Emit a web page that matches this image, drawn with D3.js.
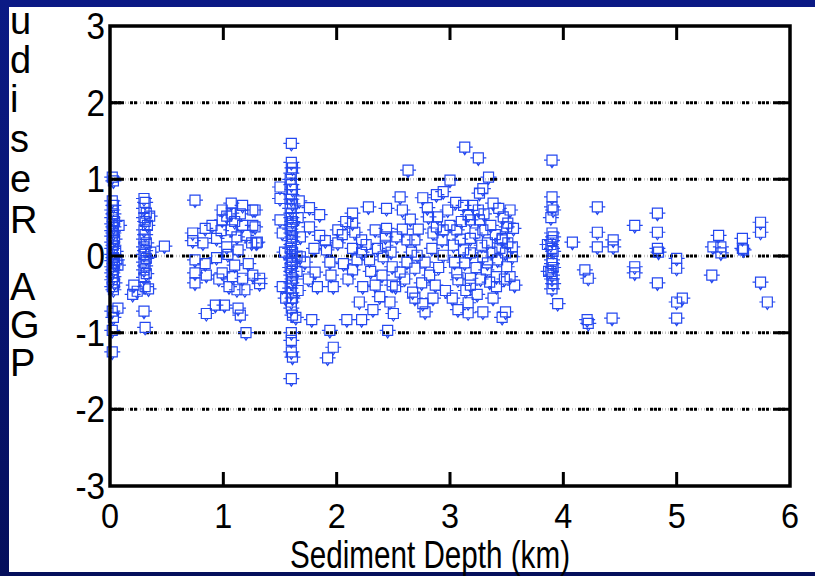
<!DOCTYPE html>
<html>
<head>
<meta charset="utf-8">
<script src="https://cdn.jsdelivr.net/npm/d3@7/dist/d3.min.js"></script>
<style>
  body { margin: 0; padding: 0; }
  svg { display: block; }
  text { font-family: "Liberation Sans", Arial, sans-serif; fill: #000; }
</style>
</head>
<body>
<div id="chart-area"></div>
<script>

// ---- data ----
var xTicks = [0, 1, 2, 3, 4, 5, 6];
var yTicks = [-3, -2, -1, 0, 1, 2, 3];
var gridValues = [-2, -1, 0, 1, 2];
var xLabel = "Sediment Depth (km)";
var yLabelChars = ["u", "d", "i", "s", "e", "R", "A", "G", "P"];

// column of sites at ~0 km
var col0 = [[0.02,1.03],[0.03,0.98],[0.02,0.72],[0.03,0.66],[0.02,0.6],[0.03,0.55],[0.02,0.5],[0.04,0.45],[0.02,0.42],[0.03,0.38],
  [0.02,0.33],[0.03,0.3],[0.02,0.26],[0.04,0.22],[0.02,0.18],[0.03,0.14],[0.02,0.1],[0.05,0.06],[0.02,0.02],[0.03,-0.02],
  [0.02,-0.06],[0.04,-0.1],[0.02,-0.14],[0.03,-0.18],[0.02,-0.22],[0.03,-0.27],[0.02,-0.31],[0.04,-0.35],[0.02,-0.4],[0.03,-0.44],
  [0.06,-0.05],[0.08,0.4],[0.07,-0.12],[0.02,-0.72],[0.03,-0.8],[0.02,-0.97],[0.02,-1.25],[0.07,-0.68]];

// column at ~0.3 km
var col03 = [[0.3,0.75],[0.31,0.7],[0.3,0.62],[0.32,0.56],[0.3,0.5],[0.31,0.45],[0.33,0.4],[0.3,0.34],[0.31,0.28],[0.3,0.22],
  [0.32,0.17],[0.3,0.12],[0.31,0.07],[0.3,0.02],[0.32,-0.03],[0.3,-0.08],[0.31,-0.13],[0.3,-0.18],[0.32,-0.23],[0.3,-0.28],
  [0.31,-0.4],[0.34,-0.43],[0.3,-0.72],[0.31,-0.93],[0.21,-0.38],[0.2,-0.5],[0.24,-0.46],[0.48,0.13],[0.36,0.05],[0.35,0.52]];

// cluster 0.7 - 1.35 km
var cluster1 = [[0.75,0.73],[0.73,0.3],[0.73,0.2],[0.75,-0.05],[0.75,-0.22],[0.75,-0.35],[0.84,0.36],[0.82,0.17],[0.84,-0.1],[0.85,-0.25],
  [0.85,-0.75],[0.94,0.23],[0.94,-0.02],[0.99,0.6],[0.99,0.47],[0.99,-0.22],[0.93,-0.64],[1.01,-0.64],[1.03,0.12],[1.07,0.69],
  [1.07,0.56],[1.07,0.34],[1.08,-0.27],[1.1,-0.12],[1.12,-0.44],[1.13,-0.68],[1.15,-0.77],[1.17,0.66],[1.17,0.4],[1.17,-0.29],
  [1.19,-0.44],[1.2,0.27],[1.2,-1.0],[1.25,0.17],[1.26,0.6],[1.26,0.4],[1.26,-0.25],[1.29,0.17],[1.32,-0.29],[1.32,-0.36],
  [0.98,0.33],[1.03,0.52],[1.1,0.45],[1.04,0.02],[0.9,0.4],[1.13,0.08],[1.22,-0.1],[0.96,-0.3],[1.05,-0.4],[1.15,0.55],[1.12,0.25],
  [1.28,0.6],[1.28,0.38],[1.3,0.18]];

// column at ~1.6 km
var col16 = [[1.6,1.47],[1.6,1.22],[1.61,1.15],[1.6,1.08],[1.59,1.0],[1.6,0.93],[1.61,0.87],[1.6,0.8],[1.6,0.74],[1.61,0.68],
  [1.59,0.62],[1.6,0.56],[1.6,0.5],[1.61,0.45],[1.6,0.4],[1.59,0.35],[1.6,0.3],[1.61,0.25],[1.6,0.2],[1.6,0.15],
  [1.59,0.1],[1.61,0.05],[1.6,0.0],[1.6,-0.05],[1.61,-0.1],[1.59,-0.15],[1.6,-0.2],[1.6,-0.25],[1.61,-0.3],[1.6,-0.35],
  [1.59,-0.42],[1.6,-0.48],[1.61,-0.55],[1.6,-0.6],[1.6,-0.68],[1.61,-0.77],[1.6,-1.0],[1.6,-1.1],[1.6,-1.25],[1.61,-1.32],
  [1.6,-1.6],[1.5,0.9],[1.5,0.75],[1.5,0.47],[1.52,0.3],[1.52,-0.4],[1.55,-0.55],[1.54,0.05],[1.66,0.5],[1.68,0.25],
  [1.65,-0.2],[1.66,-0.45],[1.65,0.0],[1.67,0.72],[1.64,-0.8]];

// main cloud 1.7 - 3.6 km
var cloud = [[1.76,0.63],[1.85,0.54],[1.85,0.27],[1.76,0.38],[1.68,-0.01],[1.72,-0.08],[1.81,-0.21],[1.83,-0.4],[1.78,-0.83],[1.94,-0.97],
  [1.97,-1.19],[1.92,-1.33],[2.01,0.34],[2.01,0.17],[1.91,0.08],[1.94,-0.08],[1.97,-0.4],[2.06,-0.1],[2.09,-0.83],[2.14,0.56],
  [2.14,0.43],[2.16,0.31],[2.22,0.21],[2.14,0.1],[2.22,0.05],[2.14,-0.18],[2.23,-0.4],[2.22,-0.83],[2.28,0.64],[2.34,0.34],
  [2.29,-0.05],[2.34,-0.38],[2.38,-0.53],[2.44,0.62],[2.44,0.36],[2.43,0.25],[2.43,0.14],[2.41,-0.01],[2.49,-0.38],[2.47,-0.6],
  [2.45,-0.97],[2.58,0.6],[2.56,0.77],[2.53,0.25],[2.56,-0.21],[2.49,-0.14],[2.63,1.12],[2.62,0.21],[2.62,-0.08],[2.69,0.21],
  [2.71,0.01],[2.69,-0.16],[2.67,-0.47],[2.69,-0.55],[2.76,-0.62],[2.78,-0.73],[2.76,0.76],[2.8,0.63],[2.81,0.51],[2.85,0.3],
  [2.78,-0.08],[2.82,-0.25],[2.87,-0.38],[2.88,0.8],[2.94,0.84],[2.89,0.51],[2.88,0.38],[2.94,0.34],[2.93,0.21],[2.94,0.01],
  [2.98,0.6],[3.0,0.99],[3.03,0.14],[3.06,0.34],[3.04,-0.08],[3.06,-0.22],[3.07,-0.7],[3.07,-0.31],[3.13,1.42],[3.12,0.66],
  [3.16,0.54],[3.18,0.47],[3.18,0.23],[3.18,0.04],[3.13,-0.09],[3.18,-0.29],[3.18,-0.38],[3.16,-0.61],[3.16,-0.74],[3.2,0.66],
  [3.25,1.28],[3.26,0.82],[3.29,0.88],[3.25,0.6],[3.26,0.47],[3.29,0.34],[3.28,0.14],[3.33,0.17],[3.29,-0.01],[3.33,-0.09],
  [3.32,-0.18],[3.35,-0.34],[3.38,-0.55],[3.29,-0.73],[3.34,1.03],[3.38,0.69],[3.47,0.51],[3.46,0.21],[3.42,-0.05],[3.41,-0.27],
  [3.41,-0.4],[3.46,-0.8],[3.53,0.6],[3.56,0.36],[3.55,0.12],[3.5,-0.14],[3.53,-0.27],[3.57,-0.38],
  [2.05,0.28],[2.1,-0.3],[2.18,-0.05],[2.26,0.15],[2.3,-0.2],[2.36,0.1],[2.4,-0.25],[2.48,0.05],[2.52,-0.4],[2.58,0.35],
  [2.6,-0.3],[2.66,0.05],[2.72,0.35],[2.75,-0.35],[2.84,0.1],[2.9,-0.15],[2.96,-0.45],[3.0,0.4],[3.02,-0.55],[3.09,0.22],
  [3.1,0.45],[3.14,-0.45],[3.22,0.3],[3.23,-0.15],[3.24,-0.5],[3.3,0.55],[3.36,0.4],[3.37,0.05],[3.4,0.28],[3.44,0.1],
  [3.48,-0.3],[3.5,0.38],[1.9,0.2],[1.8,0.1],[1.75,-0.3],[1.95,-0.25],[2.08,0.45],[2.2,-0.6],[2.32,-0.7],[2.5,-0.75],
  [2.65,0.48],[2.85,-0.55],[3.05,0.7],[3.12,0.08],[3.27,-0.3],[3.43,0.62],
  [3.51,0.43],[3.46,0.23],[3.51,0.17],[3.49,0.04],[3.55,-0.01],[3.49,-0.73]];

// column at ~3.9 km
var col39 = [[3.9,1.25],[3.9,0.77],[3.9,0.64],[3.91,0.6],[3.89,0.5],[3.9,0.3],[3.91,0.25],[3.9,0.2],[3.89,0.15],[3.9,0.1],
  [3.91,0.06],[3.9,-0.05],[3.9,-0.1],[3.91,-0.15],[3.89,-0.2],[3.9,-0.25],[3.9,-0.3],[3.91,-0.36],[3.9,-0.43],[3.95,-0.62],
  [3.86,0.15],[3.87,-0.2]];

// sparse deep sites 4 - 6 km
var deep = [[4.08,0.18],[4.3,0.64],[4.3,0.31],[4.3,0.12],[4.19,-0.18],[4.22,-0.29],[4.21,-0.83],[4.22,-0.88],[4.44,0.21],[4.44,0.12],
  [4.43,-0.81],[4.63,0.4],[4.63,-0.14],[4.63,-0.22],[4.83,0.56],[4.83,0.31],[4.83,0.1],[4.84,0.05],[4.83,-0.35],[5.0,-0.03],
  [5.0,-0.16],[5.0,-0.6],[5.05,-0.55],[5.0,-0.81],[5.32,0.12],[5.31,-0.25],[5.37,0.27],[5.39,0.12],[5.39,0.04],[5.58,0.23],
  [5.58,0.1],[5.59,0.08],[5.74,0.44],[5.74,0.31],[5.74,-0.34],[5.8,-0.6]];


/*
 * ScatterChart - constructor
 * @param _parentElement -- id of the element to draw into
 * @param _data          -- array of [depth, residual]
 */
ScatterChart = function(_parentElement, _data){
    this.parentElement = _parentElement;
    this.data = _data;
    this.initVis();
}

ScatterChart.prototype.initVis = function(){
    var vis = this;

    vis.W = 815;
    vis.H = 576;
    vis.margin = { top: 26, right: 25, bottom: 90, left: 110 };
    vis.width = 790 - vis.margin.left;
    vis.height = 486 - vis.margin.top;

    vis.svg = d3.select("#" + vis.parentElement).append("svg")
        .attr("width", vis.W)
        .attr("height", vis.H);

    // slide background
    var defs = vis.svg.append("defs");
    var grad = defs.append("linearGradient")
        .attr("id", "bg").attr("x1", 0).attr("y1", 0).attr("x2", 0).attr("y2", 1);
    grad.append("stop").attr("offset", "0%").attr("stop-color", "#0b1a85");
    grad.append("stop").attr("offset", "100%").attr("stop-color", "#050f5c");
    vis.svg.append("rect")
        .attr("width", vis.W).attr("height", vis.H)
        .attr("fill", "url(#bg)");
    vis.svg.append("rect")
        .attr("x", 9).attr("y", 7)
        .attr("width", vis.W - 9).attr("height", 565)
        .attr("fill", "#fff");

    vis.g = vis.svg.append("g")
        .attr("transform", "translate(" + vis.margin.left + "," + vis.margin.top + ")");

    vis.x = d3.scaleLinear().domain([0, 6]).range([0, vis.width]);
    vis.y = d3.scaleLinear().domain([-3, 3]).range([vis.height, 0]);

    // dotted grid lines
    var grid = vis.g.append("g").attr("class", "grid");
    grid.selectAll(".grid-gray")
        .data(gridValues)
        .enter().append("line")
        .attr("x1", 0).attr("x2", vis.width)
        .attr("y1", d => vis.y(d)).attr("y2", d => vis.y(d))
        .attr("stroke", "#c4c4c4")
        .attr("stroke-width", 2.5)
        .attr("stroke-dasharray", "1,2");
    grid.selectAll(".grid-black")
        .data(gridValues)
        .enter().append("line")
        .attr("x1", 0).attr("x2", vis.width)
        .attr("y1", d => vis.y(d)).attr("y2", d => vis.y(d))
        .attr("stroke", "#000")
        .attr("stroke-width", 3)
        .attr("stroke-dasharray", "3,1,3,1,3,9,3,1,3,9");

    // markers: square with small side ticks and bottom pointer
    var mark = "M-5,-5H5V5H-5Z M-8,0H-5 M5,0H8 M-1.7,5L0,7.5L1.7,5";
    vis.g.append("g").selectAll("path")
        .data(vis.data)
        .enter().append("path")
        .attr("d", mark)
        .attr("transform", d => "translate(" + vis.x(d[0]) + "," + vis.y(d[1]) + ")")
        .attr("fill", "none")
        .attr("stroke", "#2448f0")
        .attr("stroke-width", 1.2);

    // axes (ticks pointing inward on all four sides)
    var tl = 14;
    var edges = vis.g.append("g").attr("class", "ticks");
    edges.selectAll(".tb")
        .data(xTicks.slice(1, -1))
        .enter().append("path")
        .attr("d", d => "M" + vis.x(d) + ",0v" + tl + "M" + vis.x(d) + "," + vis.height + "v" + (-tl))
        .attr("stroke", "#000").attr("stroke-width", 3);
    edges.selectAll(".lr")
        .data(yTicks.slice(1, -1))
        .enter().append("path")
        .attr("d", d => "M0," + vis.y(d) + "h" + tl + "M" + vis.width + "," + vis.y(d) + "h" + (-tl - 3))
        .attr("stroke", "#000").attr("stroke-width", 3);

    vis.g.append("rect")
        .attr("width", vis.width).attr("height", vis.height)
        .attr("fill", "none").attr("stroke", "#000").attr("stroke-width", 3.5);

    // tick labels (slightly condensed like the slide)
    vis.g.selectAll(".xlab")
        .data(xTicks)
        .enter().append("text")
        .attr("transform", d => "translate(" + vis.x(d) + "," + (vis.height + 42) + ") scale(0.9,1)")
        .attr("text-anchor", "middle")
        .attr("font-size", "36px")
        .text(d => d);
    vis.g.selectAll(".ylab")
        .data(yTicks)
        .enter().append("text")
        .attr("transform", d => "translate(-5," + (vis.y(d) + 13) + ") scale(0.9,1)")
        .attr("text-anchor", "end")
        .attr("font-size", "37px")
        .text(d => d);

    // axis titles
    vis.svg.append("text")
        .attr("x", 430).attr("y", 568)
        .attr("text-anchor", "middle")
        .attr("font-size", "39px")
        .attr("textLength", 280)
        .attr("lengthAdjust", "spacingAndGlyphs")
        .text(xLabel);

    var baselines = [34, 73, 112, 152, 192, 233, 300, 338, 376];
    vis.svg.selectAll(".ychar")
        .data(yLabelChars)
        .enter().append("text")
        .attr("x", 10)
        .attr("y", (d, i) => baselines[i])
        .attr("font-size", "38px")
        .text(d => d);
}

var allPoints = [].concat(col0, col03, cluster1, col16, cloud, col39, deep);
var chart = new ScatterChart("chart-area", allPoints);

</script>
</body>
</html>
